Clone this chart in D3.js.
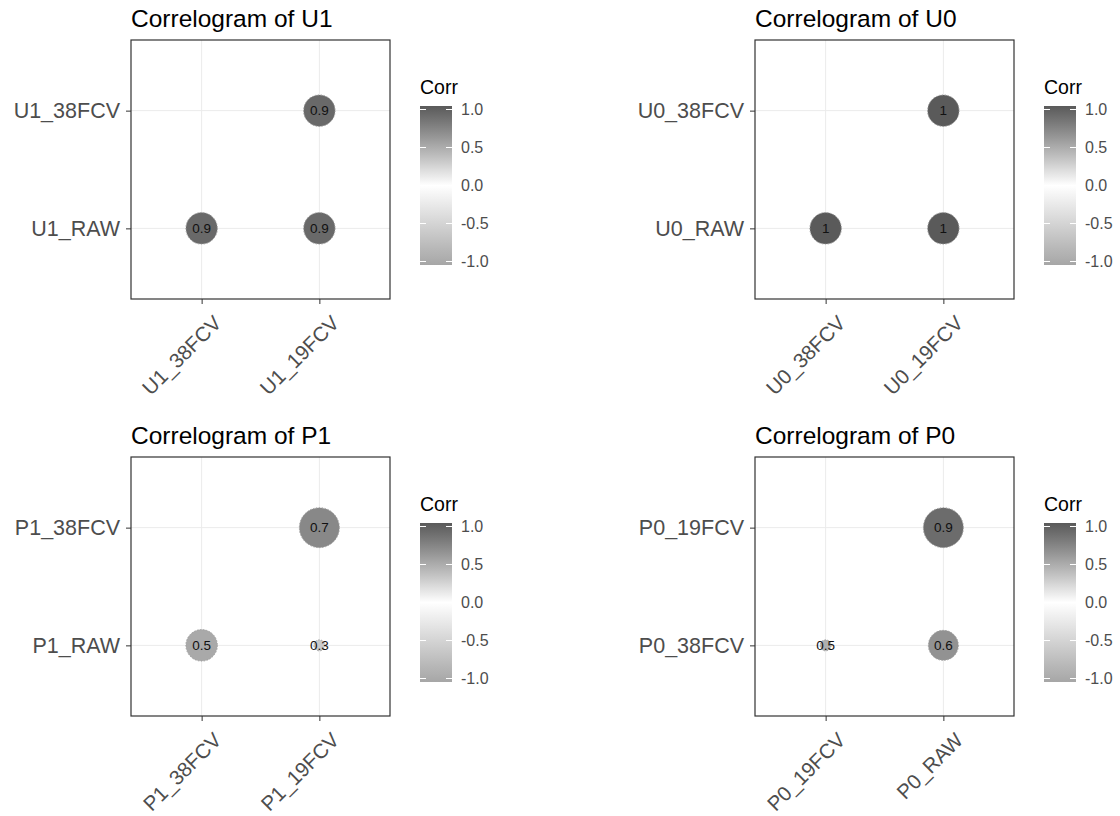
<!DOCTYPE html>
<html>
<head>
<meta charset="utf-8">
<script src="https://cdn.jsdelivr.net/npm/d3@7"></script>
<style>
  body { margin: 0; background: #fff; }
  svg { display: block; font-family: "Liberation Sans", Arial, sans-serif; }
</style>
</head>
<body>
<div id="viz"></div>
<script>
// dados - one small set of arrays per correlogram
var u1Title = 'Correlogram of U1';
var u1X = ['U1_38FCV', 'U1_19FCV'];
var u1Y = ['U1_RAW', 'U1_38FCV'];
var u1Corr = [[0.9, 0.9], [null, 0.9]];

var u0Title = 'Correlogram of U0';
var u0X = ['U0_38FCV', 'U0_19FCV'];
var u0Y = ['U0_RAW', 'U0_38FCV'];
var u0Corr = [[1, 1], [null, 1]];

var p1Title = 'Correlogram of P1';
var p1X = ['P1_38FCV', 'P1_19FCV'];
var p1Y = ['P1_RAW', 'P1_38FCV'];
var p1Corr = [[0.5, 0.3], [null, 0.7]];

var p0Title = 'Correlogram of P0';
var p0X = ['P0_19FCV', 'P0_RAW'];
var p0Y = ['P0_38FCV', 'P0_19FCV'];
var p0Corr = [[0.46, 0.64], [null, 0.88]];

var legendTicks = [-1, -0.5, 0, 0.5, 1];

// plain hyphen for negatives, like R
var fmt = d3.formatLocale({decimal: '.', thousands: ',', grouping: [3], currency: ['', ''], minus: '-'}).format('.1f');

var svg = d3.select('#viz')
  .append('svg')
  .attr('width', 1120)
  .attr('height', 816);

// shared fill scale (low - white - high)
var fill = d3.scaleLinear()
  .domain([-1, 0, 1])
  .range(['#a6a6a6', '#ffffff', '#5a5a5a'])
  .interpolate(d3.interpolateLab);

// gradient for the colour bar
var grad = svg.append('defs').append('linearGradient')
  .attr('id', 'corrGrad')
  .attr('x1', 0).attr('y1', 1).attr('x2', 0).attr('y2', 0);
d3.range(0, 1.0001, 0.05).forEach(function(t) {
  grad.append('stop')
    .attr('offset', t)
    .attr('stop-color', fill(-1 + 2 * t));
});

var size = 259;

function correlogram(left, top, title, xs, ys, corr) {
  var g = svg.append('g');

  var x = d3.scalePoint().domain(xs).range([left, left + size]).padding(0.6);
  var y = d3.scalePoint().domain(ys).range([top + size, top]).padding(0.6);

  // flatten the matrix
  var cells = [];
  corr.forEach(function(row, i) {
    row.forEach(function(v, j) {
      if (v !== null) cells.push({x: xs[j], y: ys[i], v: v});
    });
  });

  // size by abs(corr), like scale_size (area)
  var ext = d3.extent(cells, function(d) { return Math.abs(d.v); });
  var t = d3.scaleLinear().domain(ext).range([0, 1]);
  var r = d3.scaleSqrt().domain([0, 1]).range([5.5, 20]);

  // grid
  g.selectAll('.gx').data(xs).enter().append('line')
    .attr('x1', function(d) { return x(d); }).attr('x2', function(d) { return x(d); })
    .attr('y1', top).attr('y2', top + size)
    .attr('stroke', '#ebebeb').attr('stroke-width', 1);
  g.selectAll('.gy').data(ys).enter().append('line')
    .attr('y1', function(d) { return y(d); }).attr('y2', function(d) { return y(d); })
    .attr('x1', left).attr('x2', left + size)
    .attr('stroke', '#ebebeb').attr('stroke-width', 1);

  // circles
  g.selectAll('circle').data(cells).enter().append('circle')
    .attr('cx', function(d) { return x(d.x); })
    .attr('cy', function(d) { return y(d.y); })
    .attr('r', function(d) { return r(t(Math.abs(d.v))); })
    .attr('fill', function(d) { return fill(d.v); })
    .attr('stroke', '#a0a0a0')
    .attr('stroke-width', 1)
    .attr('stroke-dasharray', '1.5,1.5');

  g.selectAll('.lab').data(cells).enter().append('text')
    .attr('x', function(d) { return x(d.x); })
    .attr('y', function(d) { return y(d.y); })
    .attr('dy', '0.36em')
    .attr('text-anchor', 'middle')
    .attr('font-size', 13.5)
    .attr('fill', '#111')
    .text(function(d) { return String(Math.round(d.v * 10) / 10); });

  // border
  g.append('rect')
    .attr('x', left).attr('y', top)
    .attr('width', size).attr('height', size)
    .attr('fill', 'none')
    .attr('stroke', '#333')
    .attr('stroke-width', 1.2);

  // axes
  var yAxis = g.append('g').attr('transform', 'translate(' + left + ',0)')
    .call(d3.axisLeft(y).tickSize(5).tickPadding(6));
  yAxis.select('.domain').remove();
  yAxis.selectAll('line').attr('stroke', '#333');
  yAxis.selectAll('text')
    .attr('font-size', 21.5)
    .attr('font-family', '"Liberation Sans", Arial, sans-serif')
    .attr('fill', '#4d4d4d');

  var xAxis = g.append('g').attr('transform', 'translate(0,' + (top + size) + ')')
    .call(d3.axisBottom(x).tickSize(5));
  xAxis.select('.domain').remove();
  xAxis.selectAll('line').attr('stroke', '#333');
  xAxis.selectAll('text')
    .attr('font-size', 20.5)
    .attr('font-family', '"Liberation Sans", Arial, sans-serif')
    .attr('fill', '#4d4d4d')
    .attr('text-anchor', 'end')
    .attr('y', 0).attr('dy', '0.72em')
    .attr('transform', 'translate(10,15) rotate(-45)');

  // title
  g.append('text')
    .attr('x', left).attr('y', top - 13)
    .attr('font-size', 24.5)
    .attr('fill', '#000')
    .text(title);

  // legend
  var lx = left + size + 30, ly = top + 66, lw = 32, lh = 159;
  g.append('text')
    .attr('x', lx).attr('y', top + 54)
    .attr('font-size', 19.5)
    .attr('fill', '#000')
    .text('Corr');
  g.append('rect')
    .attr('x', lx).attr('y', ly)
    .attr('width', lw).attr('height', lh)
    .attr('fill', 'url(#corrGrad)');
  var ly2 = d3.scaleLinear().domain([-1, 1]).range([ly + lh - 3.5, ly + 3.5]);
  var tk = g.selectAll('.lt').data(legendTicks).enter().append('g');
  tk.append('line')
    .attr('x1', lx).attr('x2', lx + 6)
    .attr('y1', function(d) { return ly2(d); }).attr('y2', function(d) { return ly2(d); })
    .attr('stroke', '#fff').attr('stroke-width', 1);
  tk.append('line')
    .attr('x1', lx + lw - 6).attr('x2', lx + lw)
    .attr('y1', function(d) { return ly2(d); }).attr('y2', function(d) { return ly2(d); })
    .attr('stroke', '#fff').attr('stroke-width', 1);
  tk.append('text')
    .attr('x', lx + lw + 9)
    .attr('y', function(d) { return ly2(d); })
    .attr('dy', '0.36em')
    .attr('font-size', 16)
    .attr('fill', '#4d4d4d')
    .text(function(d) { return fmt(d); });
}

correlogram(131, 40, u1Title, u1X, u1Y, u1Corr);
correlogram(755, 40, u0Title, u0X, u0Y, u0Corr);
correlogram(131, 457, p1Title, p1X, p1Y, p1Corr);
correlogram(755, 457, p0Title, p0X, p0Y, p0Corr);
</script>
</body>
</html>
